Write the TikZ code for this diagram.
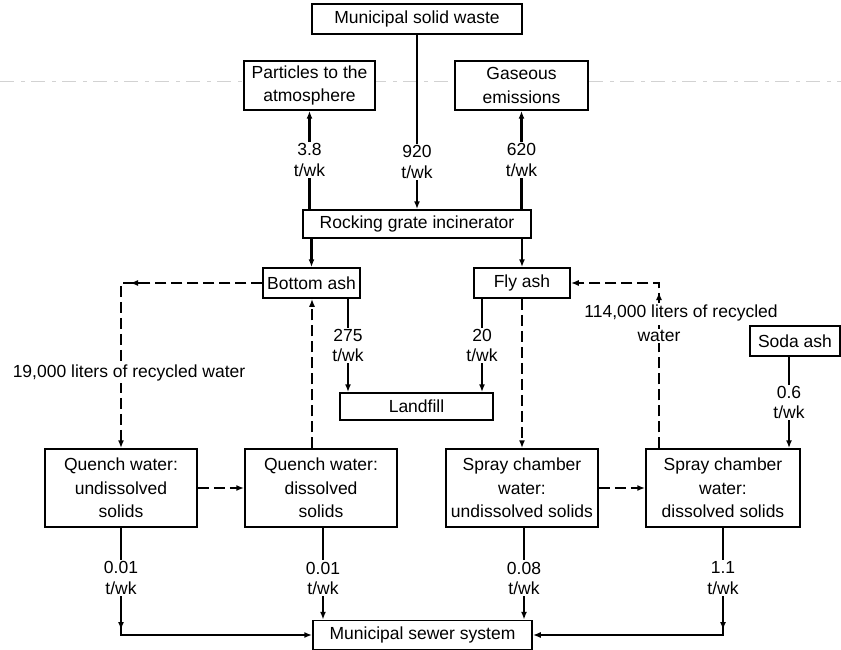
\documentclass[tikz,border=0pt]{standalone}
\usepackage{fontspec}
\setmainfont{Liberation Sans}
\usetikzlibrary{arrows.meta}
\begin{document}
\begin{tikzpicture}[x=1pt,y=-1pt,
  box/.style={draw, line width=1.5pt, fill=white, inner sep=0pt, align=center, font=\fontsize{17.5}{23.5}\selectfont},
  lbl/.style={fill=white, inner sep=1.5pt, align=center, font=\fontsize{17.5}{20.5}\selectfont},
  flow/.style={line width=2.3pt, -{Latex[length=8pt,width=6pt]}},
  dsh/.style={flow, dash pattern=on 11pt off 5pt},
  midarrow/.style={line width=2.3pt, -{Latex[length=8pt,width=6pt]}},
  scan/.style={gray!35, line width=0.6pt, dash pattern=on 14pt off 7pt on 4pt off 6pt}
]
\useasboundingbox (0,0) rectangle (841,650);
\fill[white] (0,0) rectangle (841,650);
% faint scan line
\draw[scan] (0,81) -- (841,81);

% boxes
\node[box, minimum width=210pt, minimum height=30pt] (msw) at (417,19) {Municipal solid waste};
\node[box, minimum width=131pt, minimum height=49pt] (part) at (309.5,85.5) {Particles to the\\atmosphere};
\node[box, minimum width=133pt, minimum height=49pt] (gas) at (521.5,85.5) {Gaseous\\emissions};
\node[box, minimum width=228pt, minimum height=28pt] (inc) at (417,224) {Rocking grate incinerator};
\node[box, minimum width=97pt, minimum height=30pt] (bash) at (311.5,283) {Bottom ash};
\node[box, minimum width=96pt, minimum height=30pt] (fash) at (522,283) {Fly ash};
\node[box, minimum width=153pt, minimum height=27pt] (land) at (416.5,406.5) {Landfill};
\node[box, minimum width=90pt, minimum height=30pt] (soda) at (795,341) {Soda ash};
\node[box, minimum width=152pt, minimum height=78pt] (q1) at (121,488) {Quench water:\\undissolved\\solids};
\node[box, minimum width=152pt, minimum height=78pt] (q2) at (321,488) {Quench water:\\dissolved\\solids};
\node[box, minimum width=152pt, minimum height=78pt] (s1) at (522,488) {Spray chamber\\water:\\undissolved solids};
\node[box, minimum width=154pt, minimum height=78pt] (s2) at (723,488) {Spray chamber\\water:\\dissolved solids};
\node[box, minimum width=219pt, minimum height=29pt] (sew) at (422.5,635) {Municipal sewer system};

% top flows
\draw[flow] (msw.south) -- node[lbl, pos=0.73]{920\\t/wk} (msw.south |- inc.north);
\draw[flow] (inc.north -| part.south) -- node[lbl]{3.8\\t/wk} (part.south);
\draw[flow] (inc.north -| gas.south) -- node[lbl]{620\\t/wk} (gas.south);
\draw[flow] (inc.south -| bash.north) -- (bash.north);
\draw[flow] (inc.south -| fash.north) -- (fash.north);

% to landfill
\draw[flow] ([xshift=36.5pt]bash.south) -- node[lbl]{275\\t/wk} ([xshift=36.5pt]bash.south |- land.north);
\draw[flow] ([xshift=-40pt]fash.south) -- node[lbl]{20\\t/wk} ([xshift=-40pt]fash.south |- land.north);

% recycled water loops
\path (q1.north |- bash.west) coordinate (c1);
\draw[dsh] (bash.west) -- (c1) -- (q1.north);
\draw[midarrow] ([xshift=18pt]c1) -- ([xshift=9pt]c1);
\node[lbl] (l19) at (129,373) {19,000 liters of recycled water};

\draw[dsh] ([xshift=-9pt]q2.north) -- ([xshift=-9pt]q2.north |- bash.south);
\draw[dsh] (fash.south) -- (fash.south |- s1.north);

\path ([xshift=-64pt]s2.north |- fash.east) coordinate (c2);
\draw[dsh] ([xshift=-64pt]s2.north) -- (c2) -- (fash.east);
\draw[midarrow] ([yshift=-20pt]c2) -- ([yshift=-9pt]c2);
\node[lbl] (l114a) at (681,313) {114,000 liters of recycled};
\node[lbl] (l114b) at (659,336) {water};

% soda ash
\draw[flow] ([xshift=-6pt]soda.south) -- node[lbl]{0.6\\t/wk} ([xshift=-6pt]soda.south |- s2.north);

% horizontal transfers
\draw[dsh] (q1.east) -- (q2.west);
\draw[dsh] (s1.east) -- (s2.west);

% to sewer
\path (q1.south |- sew.west) coordinate (c3);
\path (s2.south |- sew.east) coordinate (c4);
\draw[flow] (q1.south) -- node[lbl, pos=0.47]{0.01\\t/wk} (c3) -- (sew.west);
\draw[midarrow] ([yshift=20pt]c3) -- ([yshift=5pt]c3);
\draw[flow] ([xshift=2pt]q2.south) -- node[lbl, pos=0.55]{0.01\\t/wk} ([xshift=2pt]q2.south |- sew.north);
\draw[flow] ([xshift=2pt]s1.south) -- node[lbl, pos=0.55]{0.08\\t/wk} ([xshift=2pt]s1.south |- sew.north);
\draw[flow] (s2.south) -- node[lbl, pos=0.47]{1.1\\t/wk} (c4) -- (sew.east);
\draw[midarrow] ([yshift=20pt]c4) -- ([yshift=5pt]c4);
\end{tikzpicture}
\end{document}
